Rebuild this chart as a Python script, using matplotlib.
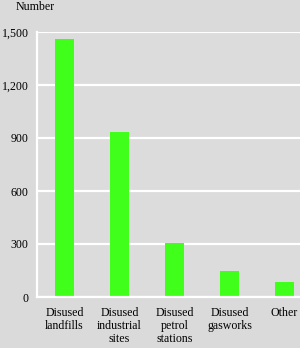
import numpy as np
from matplotlib import pyplot as plt

categories = ["Disused\nlandfills", "Disused\nindustrial\nsites", "Disused\npetrol\nstations",
              "Disused\ngasworks", "Other"]
values = [1460, 935, 305, 145, 85]
yticks = [0, 300, 600, 900, 1200, 1500]
ytick_labels = ["0", "300", "600", "900", "1,200", "1,500"]

plt.rcParams['font.family'] = ['Liberation Serif', 'DejaVu Serif']
plt.rcParams['font.size'] = 8.6

bg = '#dadada'
fig = plt.figure(figsize=(3.0, 3.48), dpi=100, facecolor=bg)
ax = fig.add_axes([37 / 300, 1 - 297 / 348, 263 / 300, 265 / 348])
ax.set_facecolor('#dcdcdc')

x = np.arange(len(categories))
ax.bar(x, values, width=0.35, color='#40ff1a', zorder=3)

ax.set_xlim(-0.5, 4.28)
ax.set_ylim(0, 1500)
ax.set_yticks(yticks)
ax.set_yticklabels(ytick_labels)
ax.set_xticks(x)
ax.set_xticklabels(categories, linespacing=1.1, va='top')
ax.tick_params(axis='y', length=0, pad=6)
ax.tick_params(axis='x', length=0, pad=7)

ax.grid(axis='y', color='white', linewidth=1.6, zorder=1)
for s in ['top', 'right']:
    ax.spines[s].set_visible(False)
for s in ['left', 'bottom']:
    ax.spines[s].set_color('white')
    ax.spines[s].set_linewidth(1.6)
    ax.spines[s].set_zorder(4)

fig.text(16 / 300, 1 - 7 / 348, "Number", ha='left', va='center')

plt.savefig("out.png", dpi=100, facecolor=bg)
